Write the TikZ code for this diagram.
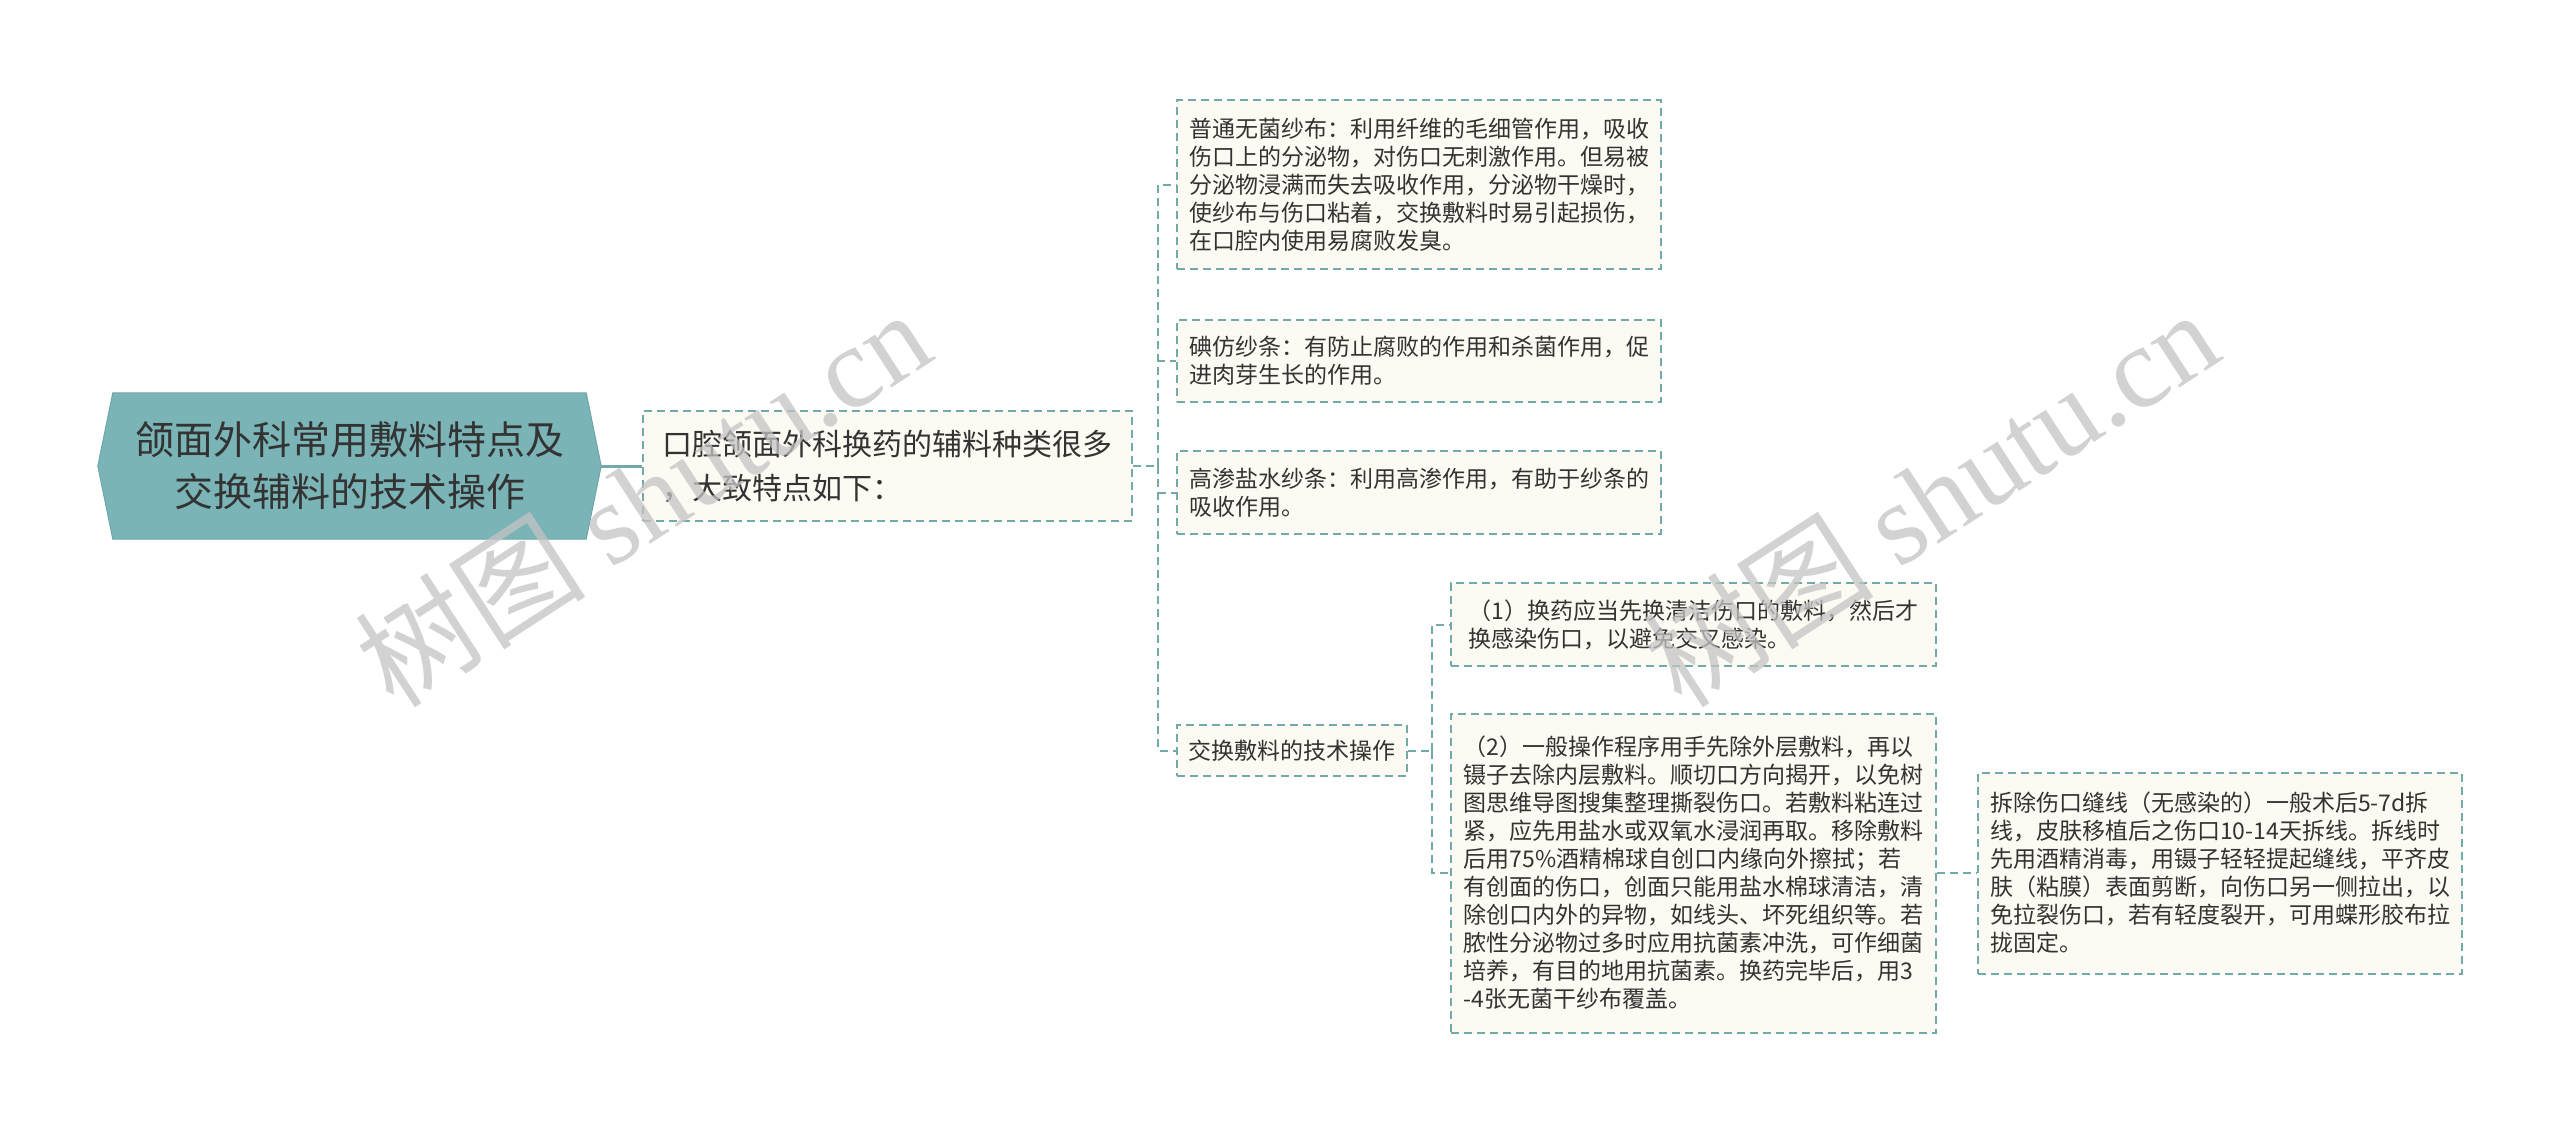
\documentclass[tikz,border=0pt]{standalone}
\usepackage{fontspec}
\setmainfont{Noto Sans CJK SC}
\newfontfamily\wmserif{Liberation Serif}
\usetikzlibrary{backgrounds}

\definecolor{branch}{HTML}{72A9A9}
\definecolor{rootfill}{HTML}{7AB4B6}
\definecolor{rootline}{HTML}{6DA7A9}
\definecolor{boxfill}{HTML}{FCFAF2}
\definecolor{ink}{HTML}{333333}
\definecolor{wmgray}{HTML}{C4C4C4}

\tikzset{
	topicbox/.style = {minimum width=503pt, minimum height=146pt, inner sep=0pt,
		align=center, text=ink, font=\fontsize{39}{52}\selectfont},
	leafbox/.style = {draw=branch, fill=boxfill, dash pattern=on 8pt off 5pt, line width=2pt,
		anchor=west, inner sep=0pt, align=left, text=ink, font=\fontsize{23}{28}\selectfont},
	link/.style = {draw=branch, dash pattern=on 8pt off 5pt, line width=2pt},
	watermark/.style = {rotate=33, text=wmgray, opacity=0.75, font=\fontsize{116}{116}\selectfont},
}

\begin{document}
\begin{tikzpicture}[x=1pt, y=-1pt]
			\def\gap{25}
			\def\bevel{15pt}
			\useasboundingbox (0,0) rectangle (2560,1133);
	
			\node[topicbox] (topic) at (349.5,466) {颌面外科常用敷料特点及\\交换辅料的技术操作};
			\begin{pgfonlayer}{background}
				\fill[white] (0,0) rectangle (2560,1133);
				\filldraw[fill=rootfill, draw=rootline, line width=1pt] (topic.west) -- ([xshift=\bevel]topic.north west)
					-- ([xshift=-\bevel]topic.north east) -- (topic.east) -- ([xshift=-\bevel]topic.south east)
					-- ([xshift=\bevel]topic.south west) -- cycle;
			\end{pgfonlayer}
			\node[leafbox, minimum width=489pt, minimum height=110pt, font=\fontsize{30}{44}\selectfont] (overview) at (642,466)
				{口腔颌面外科换药的辅料种类很多\\，大致特点如下：};
			\draw[branch, line width=3pt] (topic.east) -- (overview.west);
	
			\begin{scope}[every node/.style={leafbox, minimum width=484pt}]
				\node[minimum height=169pt] (gauze) at (1176,184.5)
					{普通无菌纱布：利用纤维的毛细管作用，吸收\\伤口上的分泌物，对伤口无刺激作用。但易被\\分泌物浸满而失去吸收作用，分泌物干燥时，\\使纱布与伤口粘着，交换敷料时易引起损伤，\\在口腔内使用易腐败发臭。};
				\node[minimum height=82pt] (iodoform) at (1176,361)
					{碘仿纱条：有防止腐败的作用和杀菌作用，促\\进肉芽生长的作用。};
				\node[minimum height=83pt] (saline) at (1176,492.5)
					{高渗盐水纱条：利用高渗作用，有助于纱条的\\吸收作用。};
				\node[minimum width=230pt, minimum height=51pt] (technique) at (1176,750.5) {交换敷料的技术操作};
			\end{scope}
	
			\draw[link] (overview.east) -- ++(\gap,0) coordinate (fork);
			\foreach \kind in {gauze, iodoform, saline, technique}
				\draw[link] (fork) |- (\kind.west);
	
			\begin{scope}[every node/.style={leafbox, minimum width=485pt}]
				\node[minimum height=83pt] (order) at (1450,624.5)
					{（1）换药应当先换清洁伤口的敷料，然后才\\换感染伤口，以避免交叉感染。};
				\node[minimum height=319pt] (steps) at (1450,873)
					{（2）一般操作程序用手先除外层敷料，再以\\镊子去除内层敷料。顺切口方向揭开，以免树\\图思维导图搜集整理撕裂伤口。若敷料粘连过\\紧，应先用盐水或双氧水浸润再取。移除敷料\\后用75\%酒精棉球自创口内缘向外擦拭；若\\有创面的伤口，创面只能用盐水棉球清洁，清\\除创口内外的异物，如线头、坏死组织等。若\\脓性分泌物过多时应用抗菌素冲洗，可作细菌\\培养，有目的地用抗菌素。换药完毕后，用3\\-4张无菌干纱布覆盖。};
				\node[minimum width=484pt, minimum height=201pt] (suture) at (1977,873)
					{拆除伤口缝线（无感染的）一般术后5-7d拆\\线，皮肤移植后之伤口10-14天拆线。拆线时\\先用酒精消毒，用镊子轻轻提起缝线，平齐皮\\肤（粘膜）表面剪断，向伤口另一侧拉出，以\\免拉裂伤口，若有轻度裂开，可用蝶形胶布拉\\拢固定。};
			\end{scope}
	
			\draw[link] (technique.east) -- ++(24,0) coordinate (fork2);
			\foreach \kind in {order, steps}
				\draw[link] (fork2) |- (\kind.west);
			\draw[link] (steps.east) -- (suture.west);
	
			% watermarks
			\node[watermark] (wmleft) at (642,497) {树图 {\wmserif shutu.cn}};
			\node[watermark] (wmright) at (1930,497) {树图 {\wmserif shutu.cn}};
		\end{tikzpicture}
\end{document}
